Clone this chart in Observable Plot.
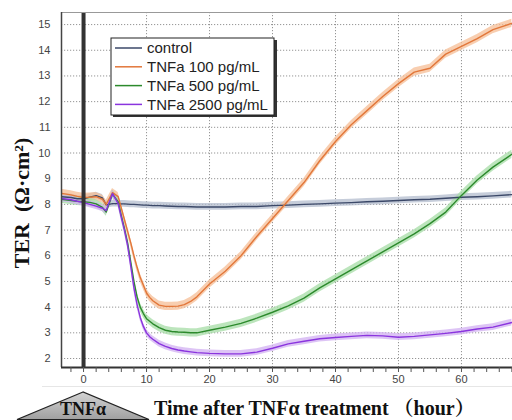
<!DOCTYPE html>
<html>
<head>
<meta charset="utf-8">
<script src="https://cdn.jsdelivr.net/npm/d3@7"></script>
<script src="https://cdn.jsdelivr.net/npm/@observablehq/plot@0.6"></script>
<style>
  html, body { margin: 0; padding: 0; background: #fff; }
  #chart { width: 512px; height: 420px; overflow: hidden; }
</style>
</head>
<body>
<div id="chart"></div>
<script>
// ---- data (hours after TNFα treatment, TER in Ω·cm²) ----
const time = [-3.5, -2, -1, 0, 1, 2, 3, 3.6, 4.6, 5.5, 6, 6.5, 7, 7.5, 8, 8.5, 9, 9.5, 10, 10.5, 11, 12, 13, 14, 15, 16, 17, 18, 20, 22.5, 25, 27.5, 30, 32.5, 35, 37.5, 40, 42.5, 45, 47.5, 50, 52.5, 55, 57.5, 60, 62.5, 65, 68];
const control = [8.3, 8.27, 8.22, 8.22, 8.28, 8.34, 8.25, 7.98, 8.03, 8.03, 8.02, 8.02, 8.01, 8.0, 8.0, 7.99, 7.98, 7.97, 7.97, 7.96, 7.95, 7.95, 7.94, 7.93, 7.92, 7.92, 7.91, 7.9, 7.9, 7.9, 7.92, 7.92, 7.95, 7.97, 8.0, 8.02, 8.05, 8.07, 8.1, 8.12, 8.15, 8.18, 8.2, 8.24, 8.28, 8.3, 8.33, 8.38];
const tnf100 = [8.43, 8.37, 8.31, 8.27, 8.28, 8.3, 8.2, 8.0, 8.46, 8.3, 7.85, 7.4, 6.95, 6.5, 6.0, 5.55, 5.15, 4.85, 4.55, 4.38, 4.25, 4.08, 4.03, 4.03, 4.04, 4.1, 4.22, 4.4, 4.9, 5.4, 6.0, 6.75, 7.45, 8.15, 8.85, 9.7, 10.45, 11.1, 11.65, 12.2, 12.7, 13.15, 13.3, 13.85, 14.15, 14.45, 14.8, 15.05];
const tnf500 = [8.2, 8.15, 8.12, 8.1, 8.08, 8.02, 7.88, 7.7, 8.4, 8.1, 7.55, 7.05, 6.5, 5.75, 5.0, 4.4, 4.0, 3.75, 3.55, 3.45, 3.35, 3.2, 3.1, 3.05, 3.03, 3.02, 3.0, 3.0, 3.1, 3.22, 3.37, 3.57, 3.8, 4.05, 4.35, 4.75, 5.1, 5.45, 5.8, 6.15, 6.5, 6.85, 7.25, 7.7, 8.35, 8.95, 9.45, 9.95];
const tnf2500 = [8.23, 8.18, 8.12, 8.07, 8.0, 7.93, 7.85, 7.76, 8.42, 8.03, 7.5, 7.0, 6.4, 5.6, 4.75, 4.1, 3.6, 3.25, 3.0, 2.85, 2.75, 2.58, 2.47, 2.39, 2.33, 2.29, 2.26, 2.23, 2.2, 2.18, 2.18, 2.25, 2.4, 2.57, 2.67, 2.77, 2.82, 2.86, 2.9, 2.88, 2.83, 2.86, 2.92, 2.98, 3.05, 3.15, 3.22, 3.4];
const seriesNames = ["control", "TNFa 100 pg/mL", "TNFa 500 pg/mL", "TNFa 2500 pg/mL"];
const seriesValues = [control, tnf100, tnf500, tnf2500];
const seriesSpread = [0.13, 0.16, 0.16, 0.13];
const lineColors = ["#3b4868", "#e2773a", "#2c8a2c", "#8a34de"];
const bandColors = ["#b3bccd", "#f5bd96", "#a6dca6", "#d1b0f2"];
const yTicks = [2, 3, 4, 5, 6, 7, 8, 9, 10, 11, 12, 13, 14, 15];
const xLabelTicks = [0, 10, 20, 30, 40, 50, 60];
const xMinorTicks = d3.range(-2, 69, 2);

// build table
const rows = [];
seriesNames.forEach((name, i) => {
  time.forEach((t, j) => {
    rows.push({series: name, t, v: seriesValues[i][j], s: seriesSpread[i]});
  });
});

const bandMarks = seriesNames.map((name, i) =>
  Plot.areaY(rows.filter(d => d.series === name), {
    x: "t", y1: d => d.v - d.s, y2: d => d.v + d.s,
    fill: bandColors[i], fillOpacity: 0.75, clip: true
  })
);
const lineMarks = seriesNames.map((name, i) =>
  Plot.line(rows.filter(d => d.series === name), {
    x: "t", y: "v", stroke: lineColors[i], strokeWidth: 1.4, clip: true
  })
);

const xDom = [-3.5, 68.1], yDom = [1.65, 15.47];

const svg = Plot.plot({
  width: 512, height: 420,
  marginLeft: 61, marginTop: 12, marginBottom: 53, marginRight: 0,
  style: {fontFamily: "'Liberation Sans', Arial, sans-serif", fontSize: "11px", background: "#fff", color: "#444"},
  x: {domain: xDom},
  y: {domain: yDom},
  marks: [
    Plot.gridY(yTicks, {stroke: "#8a8a8a", strokeOpacity: 0.9, strokeDasharray: "1.2,1.8"}),
    Plot.gridX(xLabelTicks.filter(d => d !== 0), {stroke: "#8a8a8a", strokeOpacity: 0.9, strokeDasharray: "1.2,1.8"}),
    ...bandMarks,
    ...lineMarks,
    Plot.ruleX([0], {stroke: "#333", strokeWidth: 4}),
    Plot.ruleY([yDom[1]], {stroke: "#999", strokeWidth: 1}),
    Plot.ruleX([xDom[0]], {stroke: "#444", strokeWidth: 1.5}),
    Plot.ruleY([yDom[0]], {stroke: "#333", strokeWidth: 2}),
    Plot.axisY(yTicks, {tickSize: 0, tickPadding: 11, label: null, fill: "#444"}),
    Plot.axisX(xMinorTicks, {tickSize: 5, tickPadding: 3, label: null, fill: "#444", stroke: "#555",
      tickFormat: d => (d % 10 === 0 ? String(d) : "")})
  ]
});

document.getElementById("chart").appendChild(svg);

// ---- annotations: legend, axis titles, TNFα marker ----
const s = d3.select(svg);
const serif = "'Liberation Serif', 'Times New Roman', 'Noto Serif CJK SC', 'Noto Sans CJK SC', serif";

// faint separator below tick labels
s.append("line").attr("x1", 42).attr("x2", 512).attr("y1", 386.5).attr("y2", 386.5)
  .attr("stroke", "#e6e6e6").attr("stroke-width", 1);

// legend
const lg = s.append("g").attr("text-anchor", "start");
lg.append("rect").attr("x", 113).attr("y", 40).attr("width", 164).attr("height", 77).attr("fill", "#333");
lg.append("rect").attr("x", 111).attr("y", 38).attr("width", 163).attr("height", 77)
  .attr("fill", "#fff").attr("stroke", "#222").attr("stroke-width", 1);
seriesNames.forEach((name, i) => {
  const yy = 48 + i * 18.8;
  lg.append("line").attr("x1", 115).attr("x2", 142).attr("y1", yy).attr("y2", yy)
    .attr("stroke", lineColors[i]).attr("stroke-width", 1.5);
  lg.append("text").attr("x", 147).attr("y", yy).attr("dy", "0.36em")
    .attr("text-anchor", "start")
    .attr("font-family", "'Liberation Sans', Arial, sans-serif").attr("font-size", 15)
    .attr("fill", "#222").text(name);
});

// y-axis title
s.append("text")
  .attr("transform", "translate(29,203) rotate(-90)")
  .attr("text-anchor", "middle")
  .attr("font-family", serif).attr("font-weight", "bold").attr("font-size", 22)
  .attr("fill", "#111").attr("xml:space", "preserve")
  .text("TER  (Ω·cm²)");

// x-axis title
s.append("text")
  .attr("x", 154).attr("y", 415)
  .attr("text-anchor", "start")
  .attr("font-family", serif).attr("font-weight", "bold").attr("font-size", 20)
  .attr("fill", "#111").text("Time after TNFα treatment （hour）");

// TNFα triangle marker
const defs = s.append("defs");
const grad = defs.append("linearGradient").attr("id", "tri").attr("x1", 0).attr("x2", 0).attr("y1", 0).attr("y2", 1);
grad.append("stop").attr("offset", "0%").attr("stop-color", "#d4d4d4");
grad.append("stop").attr("offset", "100%").attr("stop-color", "#a0a0a0");
s.append("polygon").attr("points", "83,392 17,419.5 149,419.5")
  .attr("fill", "url(#tri)").attr("stroke", "#222").attr("stroke-width", 1.2);
s.append("text").attr("x", 83).attr("y", 415).attr("text-anchor", "middle")
  .attr("font-family", serif).attr("font-weight", "bold").attr("font-size", 18)
  .attr("fill", "#111").text("TNFα");
</script>
</body>
</html>
